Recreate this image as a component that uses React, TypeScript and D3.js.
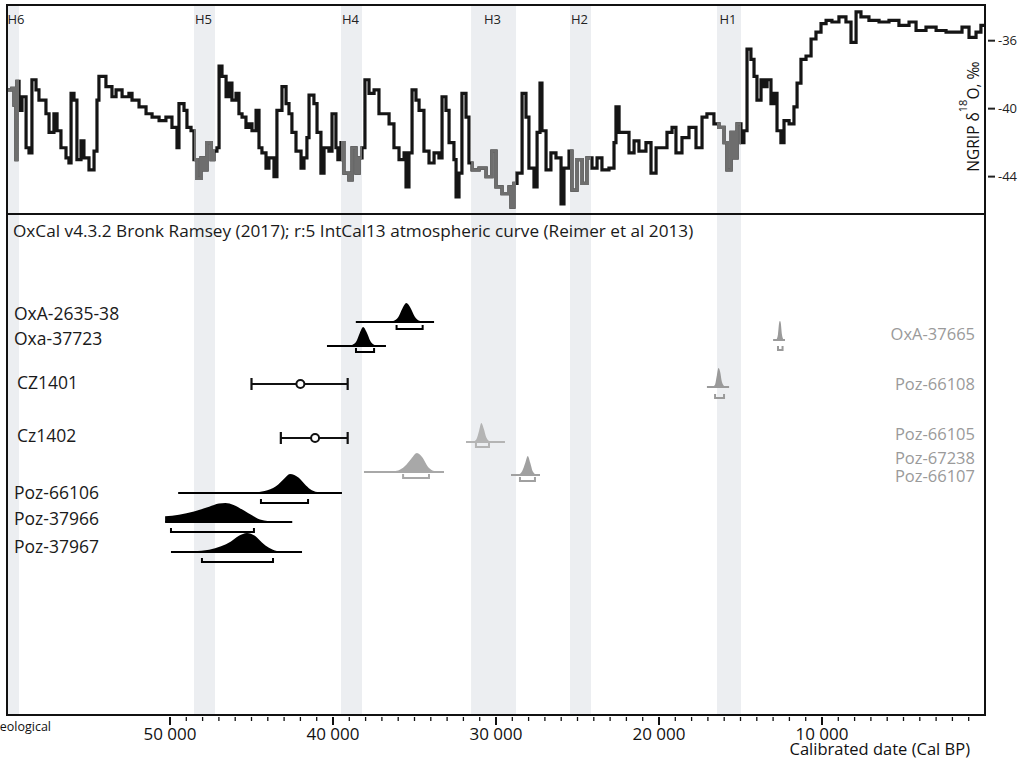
import React from "react";
import * as d3 from "d3";

const W = 1026;
const H = 761;

// NGRIP δ18O record: [age in ka BP, δ18O ‰]
const ngripRecord: [number, number][] = [
  [60.0, -38.9], [59.7, -38.8], [59.57, -39.8], [59.45, -43.0], [59.39, -38.4], [59.26, -40.1],
  [59.08, -39.3], [58.83, -42.3], [58.65, -42.6], [58.47, -38.3], [58.22, -38.9], [58.04, -39.5],
  [57.61, -40.3], [57.42, -41.4], [57.12, -40.3], [56.93, -41.3], [56.69, -42.3], [56.38, -42.9],
  [56.2, -43.2], [56.07, -39.1], [55.89, -39.5], [55.71, -43.0], [55.46, -41.9], [55.28, -42.9],
  [54.97, -43.6], [54.66, -42.5], [54.48, -39.5], [54.36, -38.1], [53.93, -38.7], [53.56, -39.3],
  [53.31, -38.9], [52.94, -39.3], [52.52, -39.1], [52.33, -39.5], [51.9, -39.9], [51.47, -40.3],
  [51.1, -40.5], [50.67, -40.7], [50.25, -40.5], [49.88, -41.1], [49.57, -42.3], [49.45, -39.7],
  [49.14, -40.1], [48.96, -41.1], [48.71, -41.3], [48.53, -43.0], [48.34, -44.1], [48.1, -42.9],
  [47.91, -43.6], [47.73, -42.0], [47.48, -43.0], [47.3, -42.5], [47.12, -42.3], [46.99, -37.5],
  [46.81, -38.1], [46.56, -39.3], [46.38, -38.5], [46.2, -39.5], [45.95, -39.1], [45.77, -40.3],
  [45.58, -40.5], [45.34, -41.1], [45.15, -40.9], [44.97, -41.3], [44.72, -40.1], [44.54, -42.3],
  [44.36, -42.6], [44.11, -43.5], [43.93, -42.9], [43.62, -44.0], [43.44, -40.1], [43.13, -38.7],
  [42.88, -39.7], [42.7, -40.3], [42.52, -41.4], [42.27, -42.5], [41.96, -43.5], [41.78, -42.9],
  [41.6, -41.7], [41.47, -39.2], [41.17, -39.7], [40.98, -41.4], [40.74, -43.8], [40.55, -42.3],
  [40.25, -42.5], [40.06, -40.3], [39.82, -42.3], [39.7, -43.0], [39.51, -42.0], [39.33, -43.8],
  [39.02, -44.2], [38.83, -42.3], [38.59, -43.8], [38.4, -42.9], [38.22, -42.3], [38.04, -38.3],
  [37.79, -39.1], [37.48, -38.9], [37.18, -40.3], [36.87, -40.3], [36.56, -40.9], [36.26, -42.3],
  [35.95, -43.0], [35.64, -42.6], [35.52, -44.6], [35.34, -42.6], [35.15, -38.9], [34.91, -39.5],
  [34.72, -40.1], [34.42, -42.5], [34.11, -43.2], [33.8, -42.6], [33.5, -42.9], [33.31, -39.3],
  [33.07, -40.1], [32.88, -42.0], [32.58, -43.0], [32.45, -45.2], [32.27, -43.8], [32.09, -39.1],
  [31.84, -40.5], [31.66, -43.2], [31.47, -43.6], [31.04, -43.5], [30.61, -44.0], [30.25, -42.5],
  [30.0, -44.6], [29.63, -45.0], [29.2, -44.6], [29.08, -45.8], [28.9, -44.4], [28.71, -43.8],
  [28.4, -39.1], [28.16, -40.5], [27.98, -43.5], [27.67, -44.6], [27.48, -41.4], [27.3, -38.5],
  [27.18, -41.3], [26.93, -43.6], [26.63, -42.6], [26.32, -42.9], [26.01, -45.6], [25.83, -43.5],
  [25.52, -42.5], [25.34, -44.8], [25.03, -43.0], [24.72, -44.4], [24.42, -42.9], [24.11, -43.5],
  [23.8, -42.9], [23.5, -43.6], [23.07, -43.5], [22.76, -42.0], [22.64, -39.9], [22.45, -41.4],
  [22.15, -41.4], [21.84, -42.6], [21.53, -41.9], [21.23, -42.5], [20.8, -42.0], [20.49, -43.8],
  [20.18, -42.3], [19.82, -42.3], [19.51, -41.4], [19.2, -41.1], [18.96, -42.6], [18.59, -41.7],
  [18.16, -41.1], [17.73, -42.3], [17.36, -40.5], [17.06, -40.3], [16.63, -40.9], [16.32, -41.1],
  [16.01, -42.0], [15.83, -43.6], [15.58, -41.4], [15.4, -42.9], [15.21, -40.9], [14.97, -42.0],
  [14.79, -41.3], [14.6, -36.5], [14.36, -37.1], [14.17, -38.1], [13.99, -39.5], [13.74, -38.3],
  [13.56, -38.7], [13.37, -38.3], [13.13, -39.7], [12.94, -39.1], [12.76, -41.3], [12.52, -42.0],
  [12.33, -40.7], [12.02, -40.9], [11.72, -39.9], [11.53, -38.5], [11.29, -37.1], [10.98, -36.9],
  [10.67, -35.9], [10.37, -35.5], [10.06, -35.0], [9.75, -34.8], [9.39, -34.9], [8.96, -34.6],
  [8.53, -34.9], [8.22, -36.1], [7.91, -34.3], [7.61, -34.6], [7.12, -34.8], [6.5, -34.9],
  [5.89, -34.8], [5.28, -35.1], [4.66, -34.9], [4.23, -35.4], [3.62, -35.2], [3.0, -35.4],
  [2.39, -35.5], [1.78, -35.5], [1.41, -35.2], [0.98, -35.8], [0.55, -35.5], [0.25, -35.1],
  [0.05, -35.0],
];

// Heinrich events (ka BP)
const heinrichNames = ["H6", "H5", "H4", "H3", "H2", "H1"];
const heinrichOlder = [60.0, 48.53, 39.51, 31.53, 25.46, 16.44];
const heinrichYounger = [59.26, 47.24, 38.22, 28.77, 24.17, 14.97];

// Axis ticks
const xMajorTicks = [50000, 40000, 30000, 20000, 10000];
const xMinorTicks = d3.range(1000, 50001, 1000);
const yTicks = [-36, -40, -44];

// Calibrated probability distributions: [age ka BP, relative probability]
const distOxA263538: [number, number][] = [
  [38.6, 0], [36.6, 0], [36.3, 0.05], [36.0, 0.25], [35.75, 0.7], [35.5, 1], [35.25, 0.75],
  [35.0, 0.3], [34.7, 0.06], [34.4, 0], [33.8, 0],
];
const distOxa37723: [number, number][] = [
  [40.37, 0], [39.2, 0], [38.9, 0.04], [38.6, 0.2], [38.35, 0.7], [38.15, 1], [37.95, 0.75],
  [37.7, 0.25], [37.45, 0.05], [37.1, 0], [36.75, 0],
];
const distPoz66106: [number, number][] = [
  [49.5, 0], [45.5, 0.01], [44.85, 0.03], [44.2, 0.1], [43.5, 0.35], [43.0, 0.75], [42.64, 1],
  [42.1, 0.8], [41.66, 0.4], [41.3, 0.15], [40.85, 0.04], [40.25, 0.01], [39.45, 0],
];
const distPoz37966: [number, number][] = [
  [50.3, 0.3], [49.45, 0.38], [48.53, 0.55], [47.6, 0.8], [47.0, 0.97], [46.6, 1], [46.1, 0.9],
  [45.46, 0.6], [44.97, 0.35], [44.42, 0.12], [43.62, 0.03], [42.5, 0],
];
const distPoz37967: [number, number][] = [
  [49.94, 0], [48.53, 0.04], [47.6, 0.12], [46.87, 0.3], [46.26, 0.55], [45.77, 0.85], [45.28, 1],
  [44.79, 0.85], [44.36, 0.5], [43.93, 0.22], [43.44, 0.05], [42.7, 0], [41.9, 0],
];
const distOxA37665: [number, number][] = [
  [13.0, 0], [12.8, 0.03], [12.7, 0.3], [12.63, 0.9], [12.58, 1], [12.53, 0.9], [12.46, 0.3],
  [12.36, 0.03], [12.27, 0],
];
const distPoz66108: [number, number][] = [
  [17.06, 0], [16.7, 0.02], [16.55, 0.15], [16.45, 0.6], [16.35, 1], [16.25, 0.8], [16.15, 0.3],
  [16.0, 0.05], [15.85, 0], [15.7, 0],
];
const distPoz66105: [number, number][] = [
  [31.84, 0], [31.4, 0.03], [31.2, 0.15], [31.05, 0.55], [30.9, 1], [30.75, 0.7], [30.6, 0.25],
  [30.4, 0.05], [30.1, 0], [29.45, 0],
];
const distPoz67238: [number, number][] = [
  [38.1, 0], [36.5, 0.02], [36.0, 0.08], [35.6, 0.3], [35.2, 0.7], [34.85, 1], [34.5, 0.75],
  [34.2, 0.3], [33.9, 0.08], [33.6, 0.02], [33.19, 0],
];
const distPoz66107: [number, number][] = [
  [29.08, 0], [28.6, 0.04], [28.4, 0.2], [28.2, 0.65], [28.05, 1], [27.9, 0.65], [27.75, 0.2],
  [27.55, 0.03], [27.3, 0],
];

// Calibrated samples (rows in plot units; range = 95% interval, ka BP)
const calSamples = [
  { name: "OxA-2635-38", side: "left", tone: "#000000", labelRow: 10.0, row: 10.8, bracketRow: 11.5, dist: distOxA263538, range: [36.1, 34.5] },
  { name: "Oxa-37723", side: "left", tone: "#000000", labelRow: 12.5, row: 13.2, bracketRow: 13.8, dist: distOxa37723, range: [38.59, 37.48] },
  { name: "Poz-66106", side: "left", tone: "#000000", labelRow: 27.9, row: 27.9, bracketRow: 28.9, dist: distPoz66106, range: [44.42, 41.53] },
  { name: "Poz-37966", side: "left", tone: "#000000", labelRow: 30.5, row: 30.8, bracketRow: 31.8, dist: distPoz37966, range: [49.94, 44.85] },
  { name: "Poz-37967", side: "left", tone: "#000000", labelRow: 33.3, row: 33.8, bracketRow: 34.8, dist: distPoz37967, range: [48.04, 43.68] },
  { name: "OxA-37665", side: "right", tone: "#9a9a9a", labelRow: 12.0, row: 12.6, bracketRow: 13.6, dist: distOxA37665, range: [12.7, 12.42] },
  { name: "Poz-66108", side: "right", tone: "#9a9a9a", labelRow: 17.0, row: 17.3, bracketRow: 18.4, dist: distPoz66108, range: [16.56, 16.01] },
  { name: "Poz-66105", side: "right", tone: "#b4b4b4", labelRow: 22.0, row: 22.8, bracketRow: 23.3, dist: distPoz66105, range: [31.23, 30.43] },
  { name: "Poz-67238", side: "right", tone: "#a8a8a8", labelRow: 24.4, row: 25.8, bracketRow: 26.4, dist: distPoz67238, range: [35.7, 34.11] },
  { name: "Poz-66107", side: "right", tone: "#a0a0a0", labelRow: 26.2, row: 26.1, bracketRow: 26.7, dist: distPoz66107, range: [28.53, 27.61] },
];

// Non-calibrated age estimates (ka BP)
const ageEstimates = [
  { name: "CZ1401", labelRow: 16.9, row: 17.0, mean: 42.0, older: 45.0, younger: 39.1 },
  { name: "Cz1402", labelRow: 22.2, row: 22.4, mean: 41.1, older: 43.2, younger: 39.1 },
];

const titleText = "OxCal v4.3.2 Bronk Ramsey (2017); r:5 IntCal13 atmospheric curve (Reimer et al 2013)";

export default function App() {
  const left = 7, right = 985, top = 5, mid = 214, bottom = 715;
  const x = d3.scaleLinear().domain([60000, 0]).range([left, right]);
  const yN = d3.scaleLinear().domain([-46.2, -33.9]).range([mid, top]);
  const yRow = d3.scaleLinear().domain([0, 50]).range([mid, mid + 500]);
  const hScale = d3.scaleLinear().domain([0, 1]).range([0, 19]);

  const line = d3
    .line<[number, number]>()
    .x((d) => x(d[0] * 1000))
    .y((d) => yN(d[1]))
    .curve(d3.curveStepAfter);
  const ngripPath = line(ngripRecord) || "";

  const fmt = (v: number) => d3.format(",")(v).replace(",", " ");
  const font = "'Open Sans', 'DejaVu Sans', sans-serif";

  return (
    <svg
      width={W}
      height={H}
      style={{ position: "absolute", left: 0, top: 0, display: "block", background: "#fff" }}
      fontFamily={font}
    >
      <defs>
        <clipPath id="hclip">
          {heinrichNames.map((n, i) => (
            <rect
              key={n}
              x={x(heinrichOlder[i] * 1000)}
              y={top}
              width={x(heinrichYounger[i] * 1000) - x(heinrichOlder[i] * 1000)}
              height={mid - top}
            />
          ))}
        </clipPath>
      </defs>
      {/* Heinrich bands */}
      {heinrichNames.map((n, i) => (
        <rect
          key={n}
          x={x(heinrichOlder[i] * 1000)}
          y={top}
          width={x(heinrichYounger[i] * 1000) - x(heinrichOlder[i] * 1000)}
          height={bottom - top}
          fill="#eceef1"
        />
      ))}
      {heinrichNames.map((n, i) => (
        <text
          key={"l" + n}
          x={(x(heinrichOlder[i] * 1000) + x(heinrichYounger[i] * 1000)) / 2 + (i === 0 ? 3 : -1)}
          y={24}
          fontSize={13}
          textAnchor="middle"
          fill="#222"
        >
          {n}
        </text>
      ))}

      {/* NGRIP curve */}
      <path d={ngripPath} fill="none" stroke="#151515" strokeWidth={3.2} strokeLinejoin="miter" />
      <path d={ngripPath} fill="none" stroke="#6e6e6e" strokeWidth={3.2} clipPath="url(#hclip)" />

      {/* Right axis */}
      {yTicks.map((t) => (
        <g key={t}>
          <line x1={right + 3} x2={right + 10} y1={yN(t)} y2={yN(t)} stroke="#222" strokeWidth={2} />
          <text x={right + 13} y={yN(t)} dy="0.35em" fontSize={13} fill="#222">
            {t}
          </text>
        </g>
      ))}
      <text
        transform={`translate(${right - 6},${(top + mid) / 2 + 7}) rotate(-90)`}
        textAnchor="middle"
        fontSize={15.5}
        fill="#111"
      >
        NGRIP δ
        <tspan fontSize={11} dy={-12}>
          18
        </tspan>
        <tspan dy={12}>O, ‰</tspan>
      </text>

      {/* Frame */}
      <rect x={left} y={top} width={right - left} height={bottom - top} fill="none" stroke="#111" strokeWidth={2} />
      <line x1={left} x2={right} y1={mid} y2={mid} stroke="#111" strokeWidth={2} />

      {/* OxCal title */}
      <text x={13} y={237} fontSize={17.2} fill="#1a1a1a">
        {titleText}
      </text>

      {/* Calibrated distributions */}
      {calSamples.map((s) => {
        const yb = yRow(s.row);
        const area = d3
          .area<[number, number]>()
          .x((d) => x(d[0] * 1000))
          .y0(yb)
          .y1((d) => yb - hScale(d[1]))
          .curve(d3.curveMonotoneX);
        const yBr = yRow(s.bracketRow);
        const bx1 = x(s.range[0] * 1000);
        const bx2 = x(s.range[1] * 1000);
        const first = s.dist[0][0];
        const last = s.dist[s.dist.length - 1][0];
        return (
          <g key={s.name}>
            <path d={area(s.dist) || ""} fill={s.tone} stroke="none" />
            <line x1={x(first * 1000)} x2={x(last * 1000)} y1={yb} y2={yb} stroke={s.tone} strokeWidth={2} />
            <path
              d={`M${bx1},${yBr - 4}V${yBr}H${bx2}V${yBr - 4}`}
              fill="none"
              stroke={s.tone}
              strokeWidth={2}
            />
            {s.side === "left" ? (
              <text x={14} y={yRow(s.labelRow)} dy="0.35em" fontSize={17.5} fill="#1a1a1a">
                {s.name}
              </text>
            ) : (
              <text x={975} y={yRow(s.labelRow)} dy="0.35em" fontSize={16.5} fill="#9a9a9a" textAnchor="end">
                {s.name}
              </text>
            )}
          </g>
        );
      })}

      {/* Age estimates with error bars */}
      {ageEstimates.map((e) => {
        const yb = yRow(e.row);
        return (
          <g key={e.name}>
            <line x1={x(e.older * 1000)} x2={x(e.younger * 1000)} y1={yb} y2={yb} stroke="#111" strokeWidth={2} />
            <line x1={x(e.older * 1000)} x2={x(e.older * 1000)} y1={yb - 6} y2={yb + 6} stroke="#111" strokeWidth={2.2} />
            <line x1={x(e.younger * 1000)} x2={x(e.younger * 1000)} y1={yb - 6} y2={yb + 6} stroke="#111" strokeWidth={2.2} />
            <circle cx={x(e.mean * 1000)} cy={yb} r={4} fill="#fff" stroke="#111" strokeWidth={2} />
            <text x={17} y={yRow(e.labelRow)} dy="0.35em" fontSize={17.5} fill="#1a1a1a">
              {e.name}
            </text>
          </g>
        );
      })}

      {/* Bottom axis */}
      {xMinorTicks.map((t) => (
        <line
          key={"m" + t}
          x1={x(t)}
          x2={x(t)}
          y1={bottom + 2}
          y2={bottom + (t % 10000 === 0 ? 10 : 6)}
          stroke="#111"
          strokeWidth={t % 10000 === 0 ? 2 : 1.3}
        />
      ))}
      {xMajorTicks.map((t) => (
        <text key={"t" + t} x={x(t)} y={740} fontSize={17} textAnchor="middle" fill="#111">
          {fmt(t)}
        </text>
      ))}
      <text x={970} y={755} fontSize={16.5} textAnchor="end" fill="#111">
        Calibrated date (Cal BP)
      </text>
      <text x={51} y={731} fontSize={12.5} textAnchor="end" fill="#111">
        Archaeological
      </text>
    </svg>
  );
}
